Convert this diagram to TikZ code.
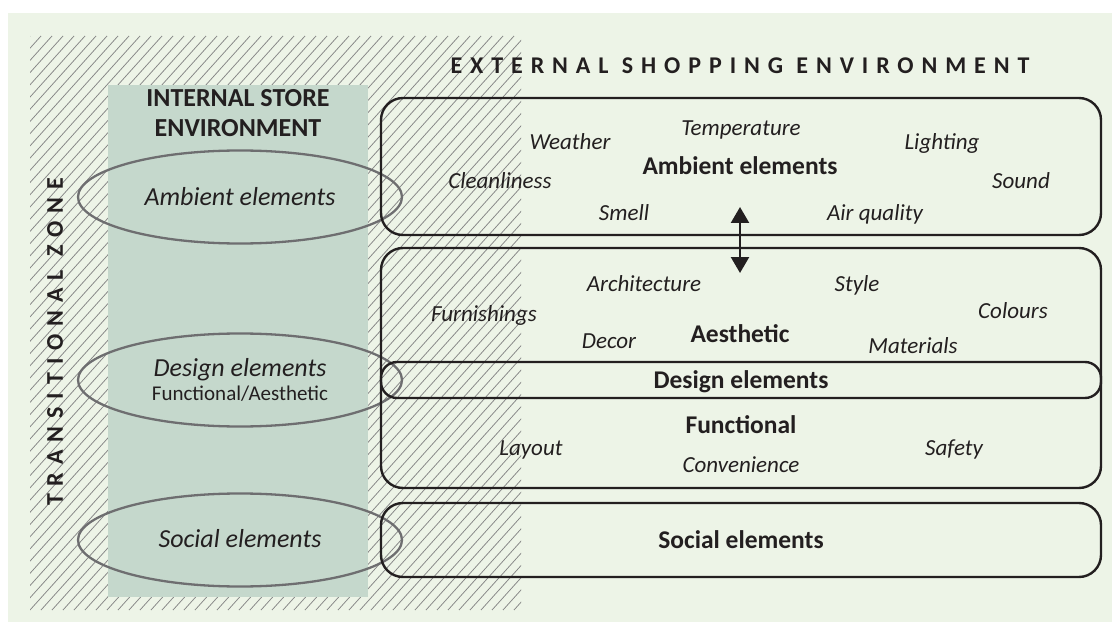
\documentclass[tikz,border=0pt]{standalone}
\usepackage{fontspec}
\setmainfont{Carlito}
\usetikzlibrary{arrows.meta,shapes.geometric}
\definecolor{bg}{HTML}{EDF4E7}
\definecolor{innerc}{HTML}{C5D8CC}
\definecolor{ink}{HTML}{231F20}
\definecolor{ellgray}{HTML}{6E6E70}
\definecolor{hatchc}{HTML}{858585}
\begin{document}
\begin{tikzpicture}[x=1pt,y=-1pt,
  it/.style={font=\fontsize{23}{27}\selectfont\itshape, text=ink, anchor=base, inner sep=0pt},
  bd/.style={font=\fontsize{25.5}{30}\selectfont\bfseries, text=ink, anchor=base, inner sep=0pt},
  bigit/.style={font=\fontsize{26}{30}\selectfont\itshape, text=ink, anchor=base, inner sep=0pt},
  hdr/.style={font=\fontsize{26}{30}\selectfont\bfseries, text=ink, anchor=base, inner sep=0pt},
  spaced/.style={font=\fontsize{24}{28}\selectfont\bfseries\addfontfeature{LetterSpace=33}, text=ink, inner sep=0pt},
  ebox/.style={draw=ink, line width=2.4pt, rounded corners=22pt, minimum width=720pt, inner sep=0pt},
  ell/.style={draw=ellgray, line width=2.3pt, ellipse, minimum width=324pt, minimum height=93pt, inner sep=0pt},
  hatchline/.style={draw=hatchc, line width=0.75pt},
  dblarrow/.style={draw=ink, line width=2.4pt, {Triangle[width=18pt,length=16pt]}-{Triangle[width=18pt,length=16pt]}}
]
\useasboundingbox (0,0) rectangle (1112,623);
\fill[bg] (8,13) rectangle (1112,622);
% transitional zone hatching
\begin{scope}
  \clip (30,36) rectangle (521,610);
  \foreach \i in {-50,...,50} \draw[hatchline] (30+\i*11,610) -- ++(517,-574);
\end{scope}
% internal store panel
\fill[innerc] (108,85) rectangle (368,597);
\node[hdr] (int1) at (238,107) {INTERNAL STORE};
\node[hdr] (int2) at (238,137) {ENVIRONMENT};
% ellipses
\node[ell] (e1) at (240,197) {};
\node[ell] (e2) at (240,380) {};
\node[ell] (e3) at (240,540) {};
\node[bigit] (l1) at (240,205) {Ambient elements};
\node[bigit] (l2) at (240,376) {Design elements};
\node[font=\fontsize{21}{25}\selectfont, text=ink, anchor=base, inner sep=0pt] (l2b) at (240,400) {Functional/Aesthetic};
\node[bigit] (l3) at (240,547) {Social elements};
% titles
\node[spaced, anchor=base] (ext) at (740,74) {EXTERNAL SHOPPING ENVIRONMENT};
\node[spaced, rotate=90] (trans) at (55,342) {TRANSITIONAL ZONE};
% external boxes
\node[ebox, minimum height=137pt] (amb) at (741,166.5) {};
\node[ebox, minimum height=240pt] (des) at (741,368) {};
\node[ebox, minimum height=36pt, rounded corners=16pt] (band) at (741,380) {};
\node[ebox, minimum height=74pt] (soc) at (741,540) {};
% arrow
\coordinate (arrt) at (740,207);
\coordinate (arrb) at (740,273);
\draw[dblarrow] (arrb) -- (arrt);
% ambient texts
\node[it] (t1) at (570,150) {Weather};
\node[it] (t2) at (741,136) {Temperature};
\node[it] (t3) at (942,150) {Lighting};
\node[bd] (t4) at (740,175) {Ambient elements};
\node[it] (t5) at (500,189) {Cleanliness};
\node[it] (t6) at (1021,189) {Sound};
\node[it] (t7) at (624,220) {Smell};
\node[it] (t8) at (875,220) {Air quality};
% design texts
\node[it] (d1) at (644,291) {Architecture};
\node[it] (d2) at (857,291) {Style};
\node[it] (d3) at (1013,318) {Colours};
\node[it] (d4) at (484,321) {Furnishings};
\node[it] (d5) at (609,348) {Decor};
\node[bd] (d6) at (740,342) {Aesthetic};
\node[it] (d7) at (913,353) {Materials};
\node[bd] (d8) at (741,388) {Design elements};
\node[bd] (d9) at (741,433) {Functional};
\node[it] (d10) at (531,455) {Layout};
\node[it] (d11) at (954,455) {Safety};
\node[it] (d12) at (741,472) {Convenience};
% social
\node[bd] (s1) at (741,548) {Social elements};
\end{tikzpicture}
\end{document}
